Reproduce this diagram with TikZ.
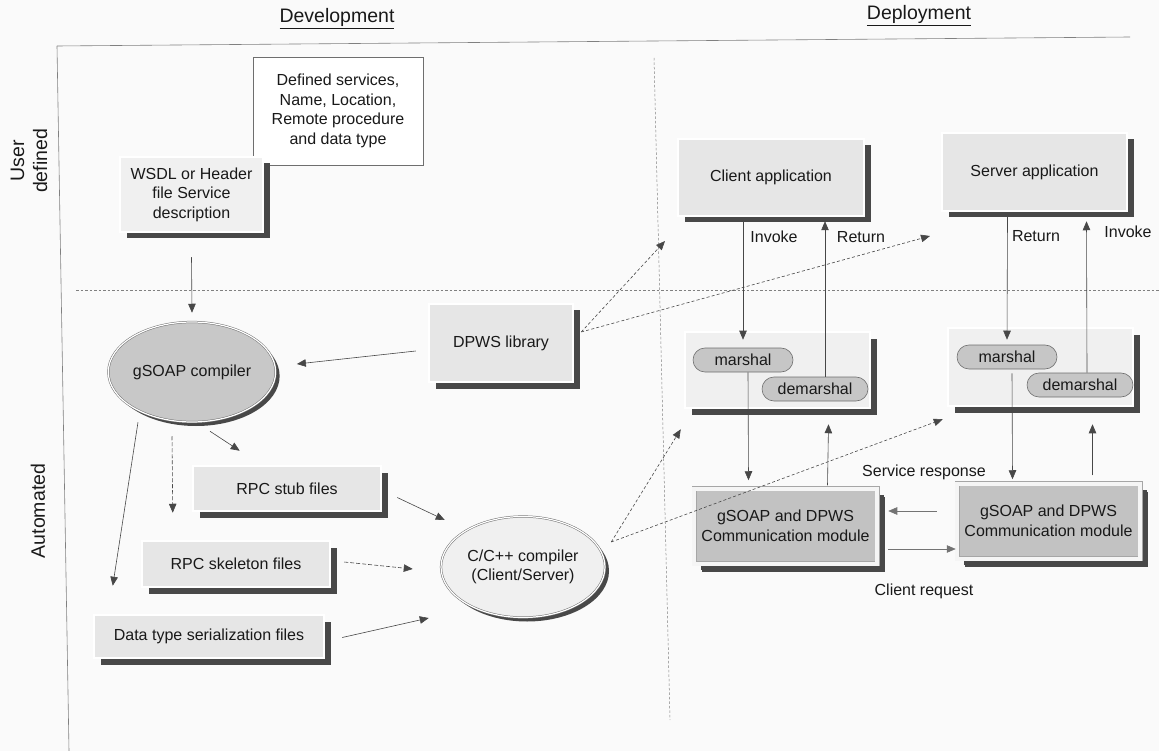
\documentclass[tikz,border=0pt]{standalone}
\usepackage{fontspec}
\setmainfont{Liberation Sans}
\usetikzlibrary{arrows.meta,shapes.geometric,shapes.misc,shadows,calc}

\definecolor{pagebg}{RGB}{250,250,250}
\definecolor{ink}{RGB}{25,25,25}
\definecolor{rule}{RGB}{110,110,110}
\definecolor{boxfill}{RGB}{230,230,230}
\definecolor{paleFill}{RGB}{240,240,240}
\definecolor{ovalFill}{RGB}{200,200,200}
\definecolor{pillFill}{RGB}{198,198,198}
\definecolor{commFill}{RGB}{194,194,194}
\definecolor{shade}{RGB}{72,72,72}

\begin{document}
\begin{tikzpicture}[x=1pt,y=-1pt,
  every node/.style={inner sep=0pt, text=ink, align=center},
  txt/.style={font=\fontsize{16}{19.5}\selectfont},
  head/.style={font=\fontsize{19.5}{23}\selectfont},
  frameline/.style={draw=black!50, line width=0.6pt},
  divider/.style={draw=black!50, line width=0.5pt, dash pattern=on 2.5pt off 2pt},
  plate/.style={txt, rectangle, draw=rule, line width=0.5pt, double=white,
    double distance=1.6pt, fill=boxfill,
    drop shadow={shadow xshift=6.5pt, shadow yshift=-6.5pt, fill=shade, opacity=1}},
  paleplate/.style={plate, fill=paleFill},
  commplate/.style={plate, draw=black!35, double=white!96!black,
    double distance=4pt, fill=commFill,
    drop shadow={shadow xshift=8pt, shadow yshift=-8pt, fill=shade, opacity=1}},
  pill/.style={txt, rounded rectangle, draw=rule, line width=0.6pt,
    fill=pillFill, minimum height=24pt},
  oval/.style={txt, ellipse, draw=rule, line width=0.5pt, double=white,
    double distance=1.2pt,
    drop shadow={shadow xshift=4pt, shadow yshift=-4pt, fill=shade, opacity=1}},
  conn/.style={draw=black!72, line width=0.6pt, -{Triangle[length=9pt,width=7.5pt]}},
  dots/.style={conn, dash pattern=on 3pt off 2.2pt},
  lbl/.style={txt}
]
\useasboundingbox (0,0) rectangle (1159,751);
\fill[pagebg] (0,0) rectangle (1159,751);

% headings and side labels
\node[head, anchor=base] (devtitle) at (337,23) {\underline{Development}};
\node[head, anchor=base] (deptitle) at (919,20) {\underline{Deployment}};
\node[head, rotate=90] (userlbl) at (29,161) {User\\defined};
\node[head, rotate=90] (autolbl) at (38,511) {Automated};

% frame and region separators
\draw[frameline] (57,46) -- (1130,37);
\draw[frameline] (57,46) -- (69,751);
\draw[divider] (76,290) -- (1159,290);
\draw[divider] (654,58) -- (670,720);

% development side
\node[txt, draw=rule, fill=white, line width=0.6pt,
      minimum width=170pt, minimum height=108pt] (spec) at (338,111)
  {Defined services,\\Name, Location,\\Remote procedure\\and data type};
\node[paleplate, minimum width=143pt, minimum height=75pt] (wsdl) at (191.5,194.5)
  {WSDL or Header\\file Service\\description};
\node[oval, fill=ovalFill, minimum width=163pt, minimum height=100pt] (gsoap) at (192,372)
  {gSOAP compiler};
\node[plate, minimum width=144pt, minimum height=78pt] (dpws) at (501,343)
  {DPWS library};
\node[plate, minimum width=188pt, minimum height=45pt] (stub) at (287,488.5)
  {RPC stub files};
\node[plate, minimum width=188pt, minimum height=46pt] (skel) at (236,564)
  {RPC skeleton files};
\node[plate, minimum width=230pt, minimum height=43pt] (dtype) at (209,636.5)
  {Data type serialization files};
\node[oval, fill=paleFill, minimum width=164pt, minimum height=101pt] (cc) at (523,567)
  {C/C++ compiler\\(Client/Server)};

% deployment side
\node[plate, minimum width=186pt, minimum height=77pt] (capp) at (771,177.5)
  {Client application};
\node[plate, minimum width=185pt, minimum height=78pt] (sapp) at (1034.5,172)
  {Server application};
\node[paleplate, minimum width=185pt, minimum height=76pt] (cmarsh) at (777.5,370) {};
\node[pill, minimum width=100pt] (cm1) at (743,360) {marshal};
\node[pill, minimum width=106pt] (cd1) at (815,389) {demarshal};
\node[paleplate, minimum width=185pt, minimum height=78pt] (smarsh) at (1040.5,367) {};
\node[pill, minimum width=100pt] (sm1) at (1007,357) {marshal};
\node[pill, minimum width=106pt] (sd1) at (1080,385) {demarshal};
\node[commplate, minimum width=183pt, minimum height=75pt] (ccomm) at (785.5,526)
  {gSOAP and DPWS\\Communication module};
\node[commplate, minimum width=183pt, minimum height=75pt] (scomm) at (1048.5,521)
  {gSOAP and DPWS\\Communication module};

% connector labels
\node[lbl] (invc) at (774,237) {Invoke};
\node[lbl] (retc) at (861,237) {Return};
\node[lbl] (rets) at (1036,236) {Return};
\node[lbl] (invs) at (1128,232) {Invoke};
\node[lbl] (resp) at (924,472) {Service response};
\node[lbl] (req) at (924,591) {Client request};

% free ends of the library links
\coordinate (dpwsout) at ($(dpws.east)+(8,-11)$);
\coordinate (libtoclient) at (665,241);
\coordinate (libtoserver) at (930,236);

% development flow
\draw[conn] ($(wsdl.south)+(0,25)$) -- ($(gsoap.north)+(0,-9)$);
\draw[conn] ($(dpws.west)+(-13,8)$) -- ($(gsoap.east)+(21,-8)$);
\draw[dots] (dpwsout) -- (libtoclient);
\draw[dots] (dpwsout) -- (libtoserver);
\draw[conn] ($(gsoap.south)+(18,9)$) -- ($(stub.north west)+(47,-15)$);
\draw[conn, dash pattern=on 4pt off 2pt] ($(gsoap.south)+(-20,14)$) -- ($(skel.north west)+(31,-28)$);
\draw[conn] ($(gsoap.south)+(-54,0)$) -- ($(dtype.north west)+(19,-29)$);
\draw[conn] ($(stub.east)+(16,9)$) -- ($(cc.west)+(4,-47)$);
\draw[conn, dash pattern=on 4pt off 2pt] ($(skel.east)+(14,-2)$) -- ($(cc.west)+(-28,2)$);
\draw[conn] ($(dtype.east)+(18,1)$) -- ($(cc.west)+(-12,51)$);
\draw[dots] ($(cc.east)+(6,-25)$) -- ($(cmarsh.south west)+(-4,21)$);
\draw[dots] ($(cc.east)+(6,-25)$) -- ($(smarsh.south west)+(-5,13)$);

% client side
\draw[conn] ($(capp.south)+(-28,5)$) -- ($(cm1.north)+(0,-8)$);
\draw[conn] ($(cd1.north)+(10,0)$) -- ($(capp.south)+(54,5)$);
\draw[conn] ($(cm1.south)+(5,0)$) -- ($(ccomm.north)+(-37,-8)$);
\draw[conn] ($(ccomm.north)+(42,-3)$) -- ($(cmarsh.south)+(51,16)$);

% server side
\draw[conn] ($(sapp.south)+(-27,6)$) -- ($(sm1.north)+(0,-5)$);
\draw[conn] ($(sd1.north)+(7,0)$) -- ($(sapp.south)+(52,10)$);
\draw[conn] ($(sm1.south)+(5,4)$) -- ($(scomm.north)+(-36,-4)$);
\draw[conn] ($(scomm.north)+(44,-8)$) -- ($(smarsh.south)+(52,18)$);

% messages between the communication modules
\draw[conn, draw=black!55] ($(scomm.west)+(-20,-10)$) -- ($(ccomm.east)+(11,-15)$);
\draw[conn, draw=black!55] ($(ccomm.east)+(11,23)$) -- ($(scomm.west)+(-1,28)$);
\end{tikzpicture}
\end{document}
